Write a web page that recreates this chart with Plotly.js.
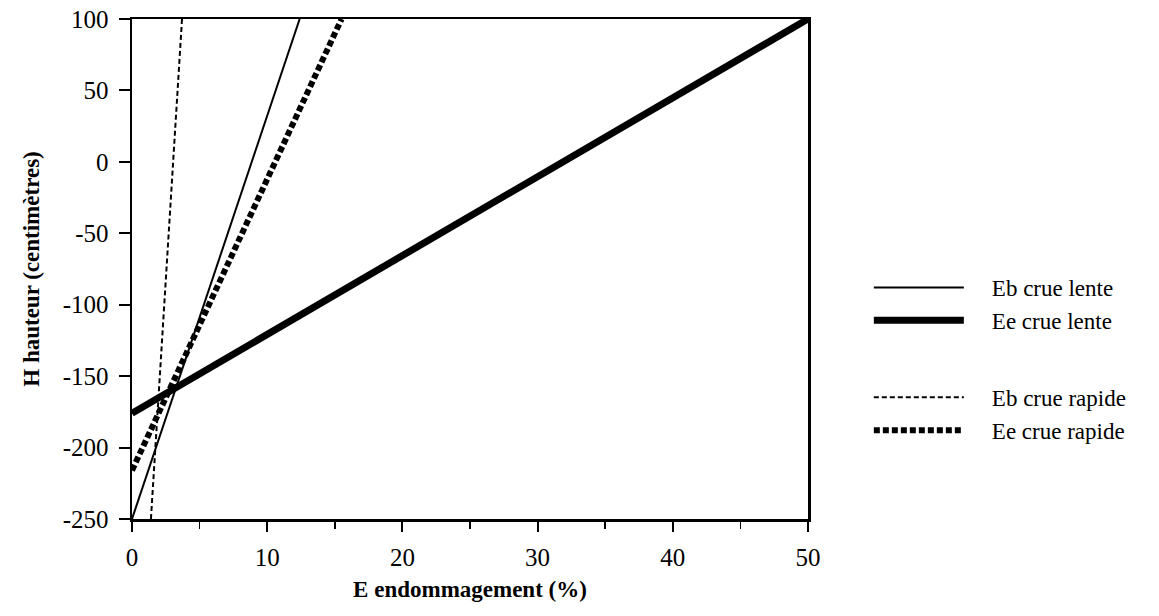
<!DOCTYPE html>
<html>
<head>
<meta charset="utf-8">
<script src="https://cdn.plot.ly/plotly-3.0.1.min.js"></script>
<style>html,body{margin:0;padding:0;background:#fff;}</style>
</head>
<body>
<div id="chart" style="width:1159px;height:616px;"></div>
<script>
// Data: E endommagement (%) vs H hauteur (cm) — endpoints
const ebLenteX = [0, 12.4];
const ebLenteY = [-250, 100];
const eeLenteX = [0, 50];
const eeLenteY = [-176, 100];
const ebRapideX = [1.4, 3.7];
const ebRapideY = [-250, 100];
const eeRapideX = [0, 15.5];
const eeRapideY = [-216, 100];

const xTicks = [0, 10, 20, 30, 40, 50];
const yTicks = [100, 50, 0, -50, -100, -150, -200, -250];

const serif = "Liberation Serif, Times New Roman, serif";
const pad = "\u00a0\u00a0\u00a0\u00a0";

const traces = [
  {x: ebLenteX, y: ebLenteY, name: pad + "Eb crue lente", mode: "lines",
   line: {color: "#000", width: 2}, legendgroup: "lente"},
  {x: eeLenteX, y: eeLenteY, name: pad + "Ee crue lente", mode: "lines",
   line: {color: "#000", width: 7}, legendgroup: "lente"},
  {x: ebRapideX, y: ebRapideY, name: pad + "Eb crue rapide", mode: "lines",
   line: {color: "#000", width: 2, dash: "5px,3px"}, legendgroup: "rapide"},
  {x: eeRapideX, y: eeRapideY, name: pad + "Ee crue rapide", mode: "lines",
   line: {color: "#000", width: 6, dash: "6px,3px"}, legendgroup: "rapide"}
];

const layout = {
  width: 1159, height: 616,
  margin: {l: 132, r: 351, t: 19, b: 97},
  paper_bgcolor: "#fff", plot_bgcolor: "#fff",
  font: {family: serif, color: "#000", size: 24},
  showlegend: true,
  legend: {
    x: 1.09, xanchor: "left", y: 0.32, yanchor: "middle",
    traceorder: "grouped", tracegroupgap: 44,
    itemwidth: 90, font: {family: serif, size: 23, color: "#000"},
    bgcolor: "rgba(0,0,0,0)"
  },
  xaxis: {
    range: [0, 50], tickvals: xTicks, ticktext: xTicks.map(String),
    showgrid: false, zeroline: false,
    showline: true, linecolor: "#000", linewidth: 2.5, mirror: true,
    ticks: "outside", ticklen: 10, tickwidth: 2, tickcolor: "#000",
    ticklabelstandoff: 4,
    minor: {dtick: 5, tick0: 0, ticks: "outside", ticklen: 7, tickwidth: 1.5, tickcolor: "#000", showgrid: false},
    tickfont: {family: serif, size: 25, color: "#000"},
    title: {text: "E endommagement (%)", font: {family: serif, size: 23, color: "#000", weight: "bold"}, standoff: 12}
  },
  yaxis: {
    range: [-250, 100], tickvals: yTicks, ticktext: yTicks.map(String),
    showgrid: false, zeroline: false,
    showline: true, linecolor: "#000", linewidth: 2.5, mirror: true,
    ticks: "outside", ticklen: 11, tickwidth: 2, tickcolor: "#000",
    ticklabelstandoff: 5,
    tickfont: {family: serif, size: 25, color: "#000"},
    title: {text: "H hauteur (centimètres)", font: {family: serif, size: 23, color: "#000", weight: "bold"}, standoff: 17}
  }
};

Plotly.newPlot("chart", traces, layout, {displayModeBar: false, staticPlot: true});
</script>
</body>
</html>
